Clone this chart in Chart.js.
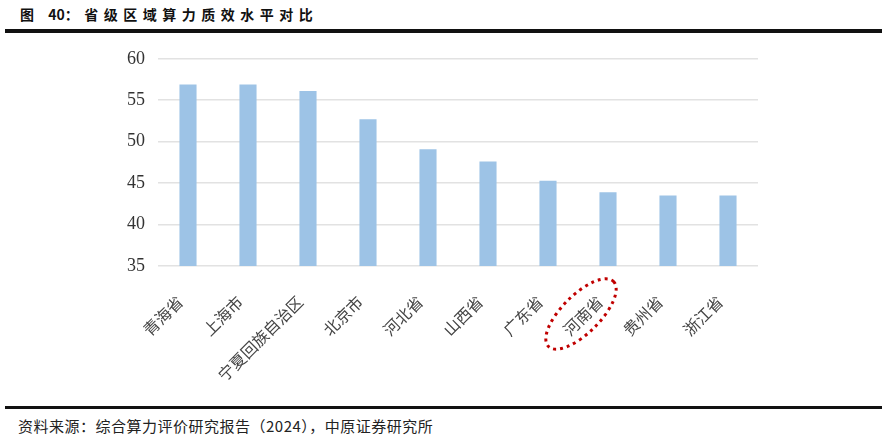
<!DOCTYPE html>
<html>
<head>
<meta charset="utf-8">
<script src="https://cdn.jsdelivr.net/npm/chart.js@4/dist/chart.umd.min.js"></script>
<style>
  body { margin: 0; background: #fff; width: 888px; height: 440px; position: relative; overflow: hidden; }
  #title { position: absolute; left: 20px; top: 4px; line-height: 20px; font: bold 14px "Noto Sans CJK SC"; letter-spacing: 5.5px; color: #111; }
  #title span { letter-spacing: 0; }
  .rule { position: absolute; left: 5px; width: 877px; background: #111; }
  #source { position: absolute; left: 18px; top: 415px; line-height: 20px; font: 15px "Noto Sans CJK SC"; letter-spacing: 0.5px; color: #222; }
  #wrap { position: absolute; left: 0; top: 35px; width: 888px; height: 365px; }
</style>
</head>
<body>
<div id="title">图 <span>40</span>：省级区域算力质效水平对比</div>
<div class="rule" style="top:29px;height:4px"></div>
<div id="wrap"><canvas id="c"></canvas></div>
<div class="rule" style="top:406px;height:3px"></div>
<div id="source">资料来源：综合算力评价研究报告（2024），中原证券研究所</div>
<script>
const labels = ['青海省', '上海市', '宁夏回族自治区', '北京市', '河北省', '山西省', '广东省', '河南省', '贵州省', '浙江省']
const values = [56.9, 56.9, 56.1, 52.7, 49.1, 47.6, 45.3, 43.9, 43.5, 43.5]
const yTicks = [35, 40, 45, 50, 55, 60]
const highlight = '河南省'

// dotted ellipse around the highlighted label
const circleLabel = {
  id: 'circleLabel',
  afterDraw(chart) {
    const i = labels.indexOf(highlight)
    if (i < 0) return
    const x = chart.scales.x.getPixelForValue(i)
    const bottom = chart.chartArea.bottom
    const ctx = chart.ctx
    ctx.save()
    ctx.translate(x - 27, bottom + 48)
    ctx.rotate(-Math.PI / 4)
    ctx.beginPath()
    ctx.ellipse(0, 0, 46, 19, 0, 0, Math.PI * 2)
    ctx.strokeStyle = '#c00000'
    ctx.lineWidth = 3
    ctx.setLineDash([3, 4])
    ctx.stroke()
    ctx.restore()
  }
}

new Chart(document.getElementById('c'), {
  type: 'bar',
  data: {
    labels,
    datasets: [{
      data: values,
      backgroundColor: '#9DC3E6',
      barPercentage: 0.57,
      categoryPercentage: 0.5
    }]
  },
  options: {
    responsive: true,
    maintainAspectRatio: false,
    animation: false,
    layout: { padding: { top: 13, right: 130, left: 0, bottom: 0 } },
    plugins: { legend: { display: false }, tooltip: { enabled: false } },
    scales: {
      x: {
        grid: { display: false, drawTicks: false },
        border: { display: false },
        ticks: {
          minRotation: 45, maxRotation: 45, autoSkip: false, padding: 26, labelOffset: -8,
          color: '#444', font: { family: 'Noto Sans CJK SC', size: 16 }
        },
        afterFit(scale) { scale.height = 134 }
      },
      y: {
        min: 35, max: 60,
        afterBuildTicks(scale) { scale.ticks = yTicks.map(v => ({ value: v })) },
        grid: { color: '#e2e2e2', lineWidth: 1.5, drawTicks: false },
        border: { display: false },
        ticks: {
          padding: 13, color: '#333',
          font: { family: 'Liberation Serif', size: 18 }
        },
        afterFit(scale) { scale.width = 158 }
      }
    }
  },
  plugins: [circleLabel]
})
</script>
</body>
</html>
